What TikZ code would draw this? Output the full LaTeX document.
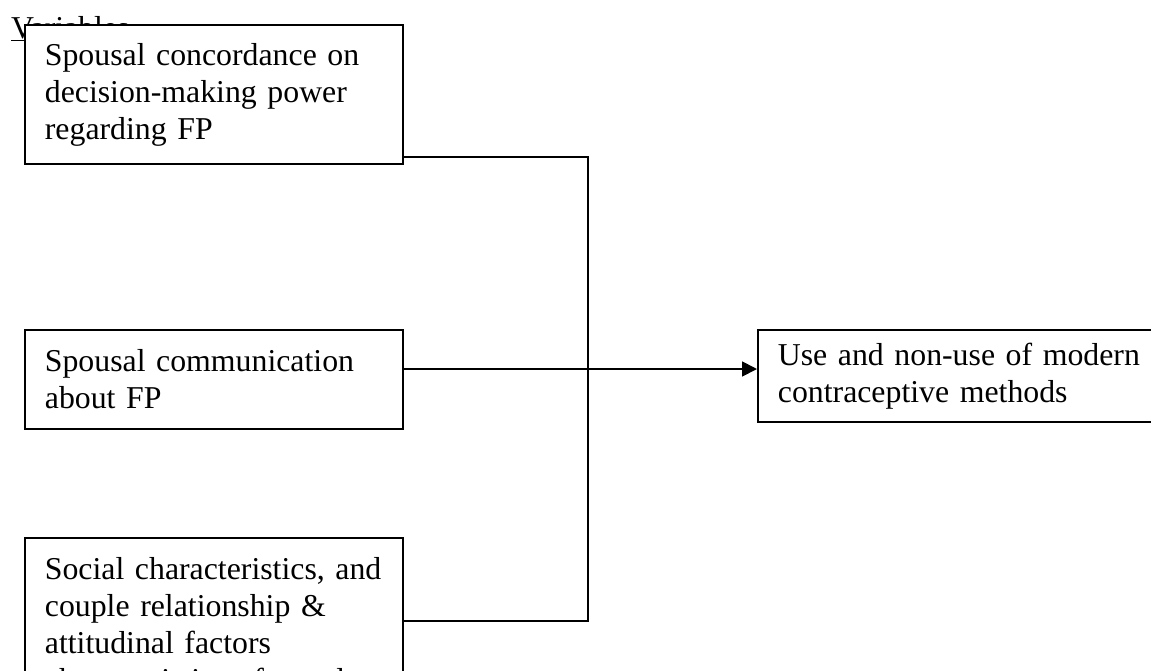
\documentclass[tikz,border=0pt]{standalone}
\usepackage{fontspec}
\setmainfont{Liberation Serif}[WordSpace=0.65]
\usetikzlibrary{arrows.meta}
\begin{document}
\begin{tikzpicture}[x=1pt,y=1pt,
  txt/.style={font=\fontsize{31.8}{37}\selectfont},
  vbox/.style={txt, draw, fill=white, line width=1.8pt, align=left, anchor=north west,
    inner xsep=20pt, inner ysep=0pt},
  conn/.style={line width=1.8pt, line join=miter}]
\clip (0,0) rectangle (1151,-670);
\fill[white] (0,0) rectangle (1151,-670);
\node[txt, anchor=base west, inner sep=0pt] (var) at (11,-38) {\underline{Variables}};
\node[vbox, text width=338pt, minimum height=139pt] (b1) at (24,-24)
  {Spousal concordance on\\decision-making power\\regarding FP};
\node[vbox, text width=338pt, minimum height=99pt] (b2) at (24,-329)
  {Spousal communication\\about FP};
\node[vbox, text width=338pt, minimum height=179pt] (b3) at (24,-537)
  {\mbox{Social characteristics, and}\\couple relationship \&\\attitudinal factors\\characteristics of couples};
\node[vbox, text width=400pt, minimum height=92pt] (b4) at (757,-329)
  {Use and non-use of modern\\contraceptive methods};
\coordinate (t1) at (588,-157);
\coordinate (t3) at (588,-621);
\coordinate (a) at (0,-369);
\draw[conn] (b1.east |- t1) -- (t1) -- (t3) -- (b3.east |- t3);
\draw[conn, -{Triangle[length=15pt,width=15pt]}] (b2.east |- a) -- (b4.west |- a);
\end{tikzpicture}
\end{document}
